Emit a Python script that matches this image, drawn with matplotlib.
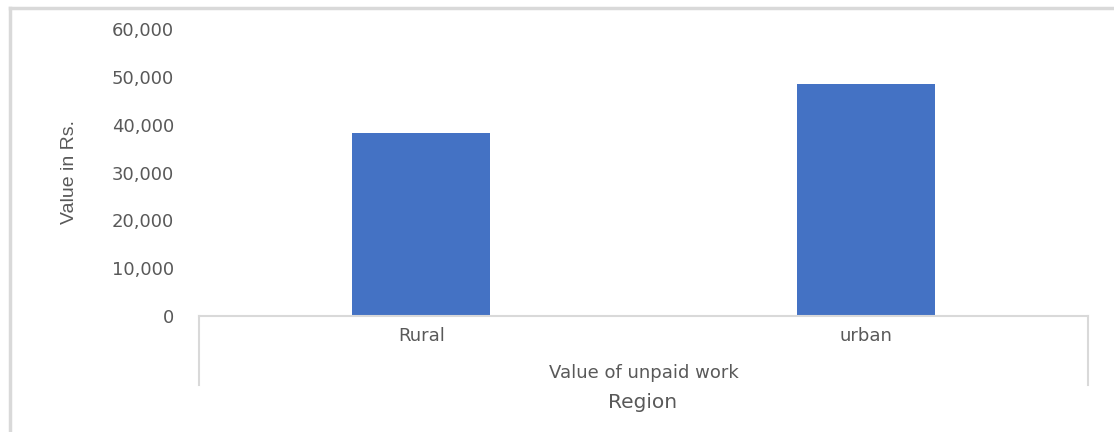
import matplotlib
matplotlib.use("Agg")
import matplotlib.pyplot as plt
from matplotlib.lines import Line2D
from matplotlib.ticker import FuncFormatter

regions = ["Rural", "urban"]
values = [38300, 48400]
group_label = "Value of unpaid work"
x_title = "Region"
y_title = "Value in Rs."
y_ticks = [0, 10000, 20000, 30000, 40000, 50000, 60000]

bar_color = "#4472C4"
text_color = "#595959"
line_color = "#D9D9D9"

fig = plt.figure(figsize=(11.14, 4.32), dpi=100)
ax = fig.add_axes([199 / 1114, 1 - 316 / 432, (1088 - 199) / 1114, (316 - 29) / 432])

ax.bar(range(len(regions)), values, width=0.31, color=bar_color, zorder=2)
ax.set_xlim(-0.5, len(regions) - 0.5)
ax.set_ylim(0, 60000)
ax.set_yticks(y_ticks)
ax.yaxis.set_major_formatter(FuncFormatter(lambda v, p: f"{int(v):,}"))
ax.set_xticks(range(len(regions)))
ax.set_xticklabels(regions)

for s in ["top", "right", "left"]:
    ax.spines[s].set_visible(False)
ax.spines["bottom"].set_color(line_color)
ax.spines["bottom"].set_linewidth(1.5)
ax.tick_params(axis="y", length=0, pad=18, labelsize=13, labelcolor=text_color)
ax.tick_params(axis="x", length=0, pad=8, labelsize=13, labelcolor=text_color)

# separators of the grouped category axis
tr = ax.get_xaxis_transform()
for xe in (-0.5, len(regions) - 0.5):
    ax.add_line(Line2D([xe, xe], [0, -(385 - 316) / 287], transform=tr,
                       color=line_color, lw=1.5, clip_on=False))

ax.text(0.5, -(373 - 316) / 287, group_label, transform=ax.transAxes,
        ha="center", va="center", fontsize=13, color=text_color)
fig.text(643 / 1114, 1 - 402 / 432, x_title, ha="center", va="center",
         fontsize=14.5, color=text_color)
fig.text(70 / 1114, 1 - 172 / 432, y_title, rotation=90, ha="center", va="center",
         fontsize=14, color=text_color, family=["Liberation Sans", "DejaVu Sans"])

# chart area border (top and left edges)
fig.add_artist(Line2D([10 / 1114, 1], [1 - 8 / 432, 1 - 8 / 432],
                      transform=fig.transFigure, color=line_color, lw=2.5))
fig.add_artist(Line2D([10 / 1114, 10 / 1114], [0, 1 - 8 / 432],
                      transform=fig.transFigure, color=line_color, lw=2.5))

fig.savefig("out.png", dpi=100)
